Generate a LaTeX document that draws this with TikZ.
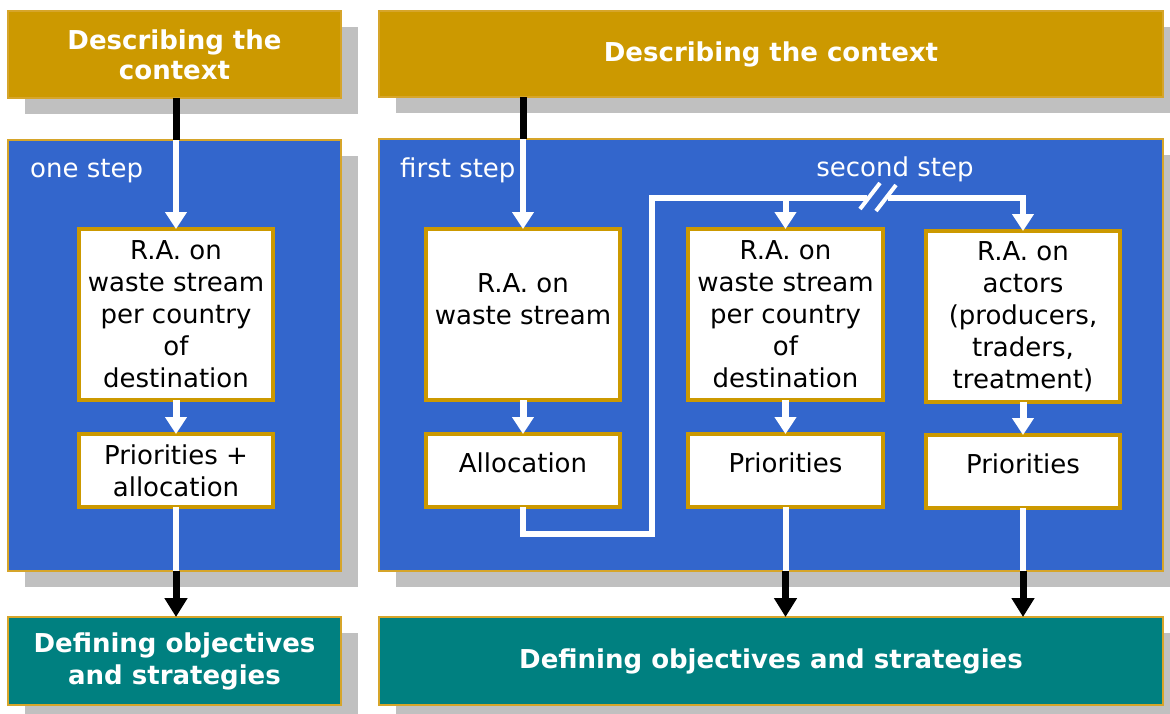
\documentclass[tikz,border=0pt]{standalone}
\usepackage{fontspec}
\setmainfont{DejaVu Sans}
\usetikzlibrary{arrows.meta,shadows}
\definecolor{gold}{HTML}{CC9900}
\definecolor{goldedge}{HTML}{D6A52A}
\definecolor{panelblue}{HTML}{3366CC}
\definecolor{tealbox}{HTML}{008080}
\definecolor{shadowgray}{HTML}{C0C0C0}
\tikzset{
  shad/.style={drop shadow={shadow xshift=17pt,shadow yshift=-16pt,shadow scale=1,fill=shadowgray,opacity=1}},
  bigbox/.style={shad,draw=goldedge,line width=2pt,anchor=north west,inner sep=0pt,outer sep=0pt,align=center},
  titlebox/.style={bigbox,fill=gold,text=white,font=\fontsize{26}{30}\selectfont\bfseries},
  panel/.style={bigbox,fill=panelblue},
  defbox/.style={bigbox,fill=tealbox,text=white,font=\fontsize{26}{32}\selectfont\bfseries},
  inbox/.style={draw=gold,line width=4pt,fill=white,anchor=north west,inner sep=0pt,outer sep=0pt,align=center,font=\fontsize{26}{32}\selectfont},
  txt/.style={align=center,inner sep=0pt,font=\fontsize{26}{32}\selectfont},
  lbl/.style={text=white,inner sep=0pt,font=\fontsize{26}{32}\selectfont},
  wline/.style={draw=white,line width=6pt},
  warrow/.style={draw=white,line width=6pt,-{Triangle[width=21pt,length=17pt]}},
  wshort/.style={draw=white,line width=7pt,-{Triangle[width=21pt,length=17pt]}},
  bline/.style={draw=black,line width=7pt},
  barrow/.style={draw=black,line width=7pt,-{Triangle[width=22pt,length=19pt]}},
}
\begin{document}
\begin{tikzpicture}[x=1pt,y=-1pt]
\useasboundingbox (0,0) rectangle (1170,713);
\clip (0,0) rectangle (1170,713);
% left column
\node[titlebox,minimum width=333pt,minimum height=87pt] (ctxL) at (8,11) {Describing the\\context};
\node[panel,minimum width=333pt,minimum height=431pt] (panelL) at (8,140) {};
\node[defbox,minimum width=333pt,minimum height=88pt] (defL) at (8,617) {Defining objectives\\and strategies};
\node[lbl,anchor=base west] (lone) at (30,177) {one step};
\node[inbox,minimum width=194pt,minimum height=171pt] (b1) at (79,229) {R.A. on\\waste stream\\per country\\of\\destination};
\node[inbox,minimum width=194pt,minimum height=73pt] (b2) at (79,434) {Priorities +\\allocation};
% right column
\node[titlebox,minimum width=784pt,minimum height=86pt] (ctxR) at (379,11) {Describing the context};
\node[panel,minimum width=784pt,minimum height=432pt] (panelR) at (379,139) {};
\node[defbox,minimum width=784pt,minimum height=88pt] (defR) at (379,617) {Defining objectives and strategies};
\node[lbl,anchor=base west] (lfirst) at (400,177) {first step};
\node[lbl,anchor=base] (lsecond) at (895,176) {second step};
\node[inbox,minimum width=194pt,minimum height=171pt] (A) at (426,229) {};
\node[txt] (tA) at ([yshift=15pt]A.center) {R.A. on\\waste stream};
\node[inbox,minimum width=194pt,minimum height=73pt] (A2) at (426,434) {};
\node[txt] (tA2) at ([yshift=8pt]A2.center) {Allocation};
\node[inbox,minimum width=195pt,minimum height=171pt] (B) at (688,229) {R.A. on\\waste stream\\per country\\of\\destination};
\node[inbox,minimum width=195pt,minimum height=73pt] (B2) at (688,434) {};
\node[txt] (tB2) at ([yshift=8pt]B2.center) {Priorities};
\node[inbox,minimum width=194pt,minimum height=171pt] (C) at (926,231) {R.A. on\\actors\\(producers,\\traders,\\treatment)};
\node[inbox,minimum width=194pt,minimum height=73pt] (C2) at (926,435) {};
\node[txt] (tC2) at ([yshift=8pt]C2.center) {Priorities};
% coordinates for routing
\coordinate (ra) at (A2.south |- 0,534);
\coordinate (rb) at (652,534);
\coordinate (rc) at (652,198);
\coordinate (brk1) at (867,198);
\coordinate (brk2) at (888,198);
\coordinate (topB) at (B.north |- 0,198);
\coordinate (topC) at (C.north |- 0,198);
% left connectors
\draw[bline] (ctxL.south -| b1.north) -- (panelL.north -| b1.north);
\draw[warrow] (panelL.north -| b1.north) -- (b1.north);
\draw[wshort] (b1.south) -- (b2.north);
\draw[wline] (b2.south) -- (panelL.south -| b2.south);
\draw[barrow] (panelL.south -| b2.south) -- (defL.north -| b2.south);
% right connectors
\draw[bline] (ctxR.south -| A.north) -- (panelR.north -| A.north);
\draw[warrow] (panelR.north -| A.north) -- (A.north);
\draw[wshort] (A.south) -- (A2.north);
\draw[wline,line join=miter] (A2.south) -- (ra) -- (rb) -- (rc) -- (brk1);
\draw[warrow,line join=miter] (brk2) -- (topC) -- (C.north);
\draw[warrow] (topB) -- (B.north);
\draw[draw=white,line width=4pt] (860,209) -- (880,183);
\draw[draw=white,line width=4pt] (876,211) -- (896,185);
\draw[wshort] (B.south) -- (B2.north);
\draw[wshort] (C.south) -- (C2.north);
\draw[wline] (B2.south) -- (panelR.south -| B2.south);
\draw[barrow] (panelR.south -| B2.south) -- (defR.north -| B2.south);
\draw[wline] (C2.south) -- (panelR.south -| C2.south);
\draw[barrow] (panelR.south -| C2.south) -- (defR.north -| C2.south);
\end{tikzpicture}
\end{document}
